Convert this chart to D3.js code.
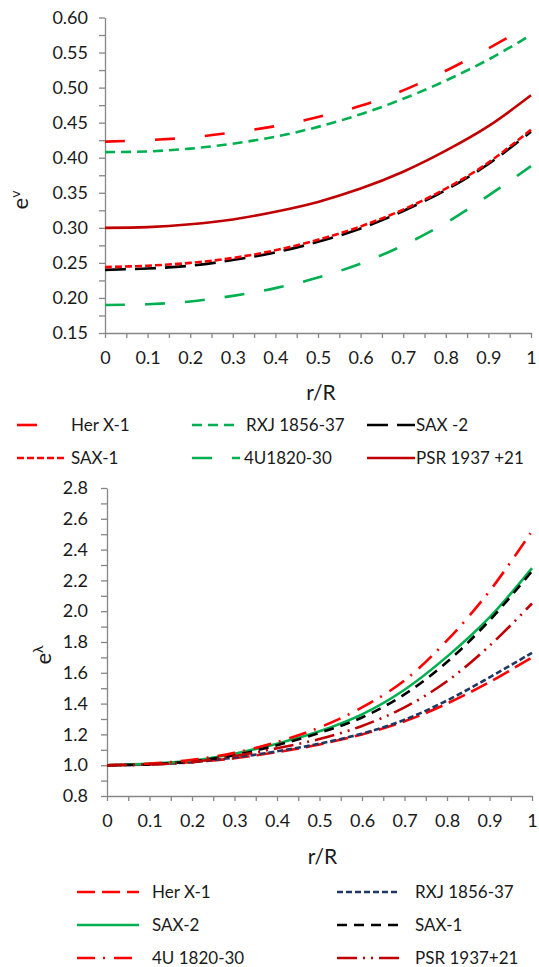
<!DOCTYPE html>
<html lang="en">
<head>
    <meta charset="UTF-8">
    <title>e^v and e^lambda</title>
    <script src="https://d3js.org/d3.v7.min.js"></script>
    <style>
        body { margin: 0; background: #fff; }
        svg { display: block; font-family: Lato, "Open Sans", sans-serif; }
        .axis path, .axis line { stroke: #868686; stroke-width: 1.3; }
        .axis text { font-family: Lato, sans-serif; font-size: 18px; fill: #1a1a1a; }
    </style>
</head>
<body>
<script type="text/javascript">
    var svgWidth = 539;
    var svgHeight = 967;

    // r/R sample points shared by both panels
    var rR = [0, 0.1, 0.2, 0.3, 0.4, 0.5, 0.6, 0.7, 0.8, 0.9, 1.0];
    var xTickLabels = ["0", "0.1", "0.2", "0.3", "0.4", "0.5", "0.6", "0.7", "0.8", "0.9", "1"];

    // top panel: e^v
    var topNames = ["Her X-1", "RXJ 1856-37", "SAX -2", "SAX-1", "4U1820-30", "PSR 1937 +21"];
    var topHerX1 = [0.423, 0.425, 0.429, 0.436, 0.445, 0.458, 0.474, 0.496, 0.524, 0.556, 0.590];
    var topRXJ = [0.408, 0.409, 0.413, 0.420, 0.430, 0.444, 0.462, 0.484, 0.510, 0.540, 0.575];
    var topSAX2 = [0.240, 0.242, 0.246, 0.254, 0.265, 0.280, 0.299, 0.324, 0.354, 0.391, 0.437];
    var topSAX1 = [0.244, 0.246, 0.250, 0.257, 0.268, 0.283, 0.302, 0.326, 0.356, 0.393, 0.440];
    var top4U = [0.190, 0.191, 0.195, 0.203, 0.214, 0.229, 0.249, 0.275, 0.307, 0.346, 0.388];
    var topPSR = [0.300, 0.301, 0.305, 0.312, 0.323, 0.337, 0.356, 0.380, 0.410, 0.445, 0.489];
    var topYTicks = d3.range(0, 19).map(function (i) { return 0.15 + i * 0.025; });

    // bottom panel: e^lambda
    var botNames = ["Her X-1", "RXJ 1856-37", "SAX-2", "SAX-1", "4U 1820-30", "PSR 1937+21"];
    var botHerX1 = [1.00, 1.005, 1.02, 1.045, 1.085, 1.135, 1.20, 1.285, 1.40, 1.54, 1.70];
    var botRXJ = [1.00, 1.005, 1.02, 1.05, 1.09, 1.14, 1.205, 1.295, 1.42, 1.57, 1.73];
    var botSAX2 = [1.00, 1.01, 1.03, 1.075, 1.14, 1.22, 1.33, 1.49, 1.705, 1.96, 2.28];
    var botSAX1 = [1.00, 1.005, 1.025, 1.065, 1.13, 1.21, 1.31, 1.46, 1.67, 1.94, 2.26];
    var bot4U = [1.00, 1.01, 1.035, 1.08, 1.15, 1.245, 1.375, 1.55, 1.81, 2.13, 2.52];
    var botPSR = [1.00, 1.005, 1.02, 1.06, 1.11, 1.17, 1.255, 1.375, 1.545, 1.775, 2.05];
    var botYTicks = d3.range(0, 21).map(function (i) { return 0.8 + i * 0.1; });

    var topStyles = [
        {color: "#ff0000", dash: "20,30"},
        {color: "#00b050", dash: "10,6"},
        {color: "#000000", dash: "21,9"},
        {color: "#ff0000", dash: "7,3"},
        {color: "#00b050", dash: "20,20"},
        {color: "#c00000", dash: null}
    ];
    var botStyles = [
        {color: "#ff0000", dash: "18,7"},
        {color: "#1f3864", dash: "6,3"},
        {color: "#00b050", dash: null},
        {color: "#000000", dash: "10,7"},
        {color: "#ff0000", dash: "18,8,2,9"},
        {color: "#c00000", dash: "20,6,2,6,2,6"}
    ];

    var svg = d3.select("body").append("svg")
        .attr("width", svgWidth)
        .attr("height", svgHeight);

    var drawPanel = function (opts) {
        var xScale = d3.scaleLinear().domain([0, 1]).range([opts.x0, opts.x1]);
        var yScale = d3.scaleLinear().domain(opts.yDomain).range([opts.yBottom, opts.yTop]);

        var xAxis = d3.axisBottom(xScale)
            .tickValues(d3.range(0, 21).map(function (i) { return i / 20; }))
            .tickSize(5)
            .tickSizeOuter(0)
            .tickPadding(13)
            .tickFormat(function (d, i) { return i % 2 === 0 ? xTickLabels[i / 2] : ""; });
        svg.append("g")
            .attr("class", "axis")
            .attr("transform", "translate(0, " + opts.yBottom + ")")
            .call(xAxis);

        var yAxis = d3.axisLeft(yScale)
            .tickValues(opts.yTicks)
            .tickSize(6)
            .tickSizeOuter(0)
            .tickPadding(opts.yPad)
            .tickFormat(function (d, i) { return i % 2 === 0 ? d3.format(opts.yFmt)(d) : ""; });
        svg.append("g")
            .attr("class", "axis")
            .attr("transform", "translate(" + opts.x0 + ", 0)")
            .call(yAxis);

        var line = d3.line()
            .x(function (d, i) { return xScale(rR[i]); })
            .y(function (d) { return yScale(d); })
            .curve(d3.curveCatmullRom);

        svg.append("g").selectAll("path")
            .data(opts.series)
            .enter()
            .append("path")
            .attr("d", function (d) { return line(d); })
            .attr("fill", "none")
            .attr("stroke", function (d, i) { return opts.styles[i].color; })
            .attr("stroke-width", 2.6)
            .attr("stroke-dasharray", function (d, i) { return opts.styles[i].dash; });

        svg.append("text")
            .attr("x", (opts.x0 + opts.x1) / 2 + 3)
            .attr("y", opts.xLabelY)
            .attr("text-anchor", "middle")
            .attr("font-size", "21px")
            .attr("fill", "#1a1a1a")
            .text("r/R");

        var yl = svg.append("text")
            .attr("transform", "translate(" + opts.yLabelX + "," + opts.yLabelY + ") rotate(-90)")
            .attr("text-anchor", "middle")
            .attr("font-size", "22px")
            .attr("fill", "#1a1a1a");
        yl.append("tspan").text("e");
        yl.append("tspan").attr("dy", "-0.55em").attr("font-size", "14px").text(opts.sup);
    };

    var drawLegend = function (names, styles, items) {
        var g = svg.append("g");
        items.forEach(function (it, i) {
            g.append("line")
                .attr("x1", it.sx0).attr("x2", it.sx1)
                .attr("y1", it.y).attr("y2", it.y)
                .attr("stroke", styles[i].color)
                .attr("stroke-width", 2.6)
                .attr("stroke-dasharray", styles[i].dash);
            g.append("text")
                .attr("x", it.tx)
                .attr("y", it.y + 6)
                .attr("font-size", "17px")
                .attr("fill", "#1a1a1a")
                .text(names[i]);
        });
    };

    drawPanel({
        x0: 105, x1: 531, yTop: 17.5, yBottom: 333,
        yDomain: [0.15, 0.60], yTicks: topYTicks, yFmt: ".2f", yPad: 11,
        series: [topHerX1, topRXJ, topSAX2, topSAX1, top4U, topPSR],
        styles: topStyles, xLabelY: 400, yLabelX: 28, yLabelY: 200, sup: "v"
    });

    drawPanel({
        x0: 107, x1: 532, yTop: 488, yBottom: 796,
        yDomain: [0.8, 2.8], yTicks: botYTicks, yFmt: ".1f", yPad: 13,
        series: [botHerX1, botRXJ, botSAX2, botSAX1, bot4U, botPSR],
        styles: botStyles, xLabelY: 864, yLabelX: 51, yLabelY: 655, sup: "\u03bb"
    });

    drawLegend(topNames, topStyles, [
        {sx0: 17, sx1: 67, tx: 71, y: 425},
        {sx0: 192, sx1: 240, tx: 246, y: 425},
        {sx0: 367, sx1: 415, tx: 416, y: 425},
        {sx0: 17, sx1: 67, tx: 71, y: 458},
        {sx0: 192, sx1: 240, tx: 244, y: 458},
        {sx0: 367, sx1: 415, tx: 416, y: 458}
    ]);

    drawLegend(botNames, botStyles, [
        {sx0: 77, sx1: 139, tx: 152, y: 892},
        {sx0: 337, sx1: 400, tx: 415, y: 892},
        {sx0: 77, sx1: 139, tx: 152, y: 925},
        {sx0: 337, sx1: 400, tx: 415, y: 925},
        {sx0: 77, sx1: 139, tx: 152, y: 958},
        {sx0: 337, sx1: 400, tx: 415, y: 958}
    ]);
</script>
</body>
</html>
